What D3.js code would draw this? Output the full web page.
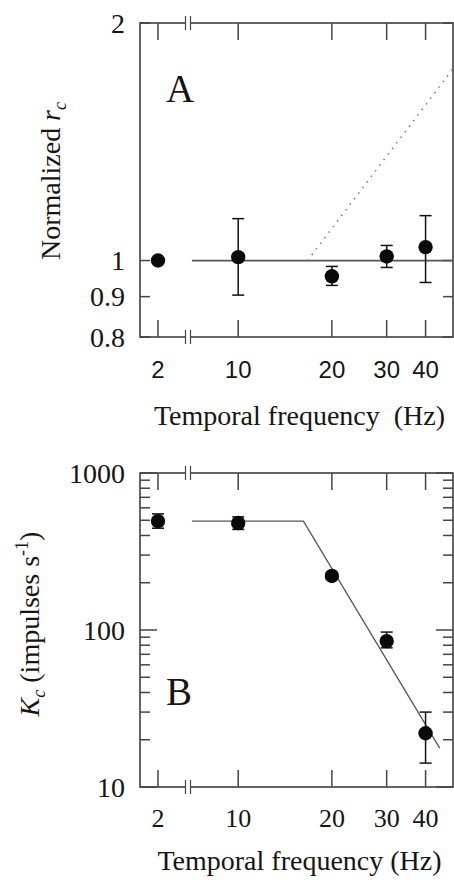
<!DOCTYPE html>
<html>
<head>
<meta charset="utf-8">
<script src="https://cdn.jsdelivr.net/npm/d3@7"></script>
<style>
  body { margin: 0; background: #fff; }
  svg { display: block; }
  text { fill: #151515; }
</style>
</head>
<body>
<div id="chart"></div>
<script>
// Temporal frequencies (Hz); 2 Hz sits left of the axis break.
var freqs = [2, 10, 20, 30, 40];

// Panel A: normalized r_c with error bars.
var rcValues = [1.0, 1.01, 0.955, 1.012, 1.04];
var rcUpper  = [1.0, 1.13, 0.983, 1.045, 1.14];
var rcLower  = [1.0, 0.904, 0.93, 0.98, 0.938];
var rcTicks = [0.8, 0.9, 1, 2];

// Panel A model lines.
var rcFlatFreq = [7.1, 49];
var rcFlatVal  = [1, 1];
var rcDotFreq  = [16.7, 49];
var rcDotVal   = [1.0, 1.75];

// Panel B: K_c (impulses/s) with error bars.
var kcValues = [494, 480, 221, 85, 22];
var kcUpper  = [549, 525, 232, 97, 30];
var kcLower  = [445, 437, 211, 77, 14.2];
var kcTicks = [10, 100, 1000];

// Panel B fitted line.
var kcFitFreq = [7.1, 16.2, 44.4];
var kcFitVal  = [494, 494, 17.7];

var width = 454;
var height = 882;

var left = 140, right = 453;
var breakX = 188;

var svg = d3.select("#chart")
  .append("svg")
    .attr("width", width)
    .attr("height", height);

// Two x pieces: the lone 2 Hz point, then a log axis after the break.
var xLeft = d3.scaleLinear().domain([1.4, 3.0]).range([left, breakX]);
var xMain = d3.scaleLog().domain([7, 49]).range([190, right]);

function xPos(f) {
  return f < 5 ? xLeft(f) : xMain(f);
}

var serif = "Liberation Serif, Times New Roman, DejaVu Serif, serif";
var sans = "Liberation Sans, Arial, sans-serif";

function drawPanel(opt) {
  var g = svg.append("g");
  var y = opt.y;
  var top = y.range()[1], bottom = y.range()[0];

  // frame
  g.append("rect")
    .attr("x", left).attr("y", top)
    .attr("width", right - left).attr("height", bottom - top)
    .attr("fill", "none").attr("stroke", "#333").attr("stroke-width", 1.5);

  // x ticks, inward on bottom and top
  freqs.forEach(function (f) {
    var x = xPos(f);
    g.append("line").attr("x1", x).attr("x2", x).attr("y1", bottom).attr("y2", bottom - 17)
      .attr("stroke", "#444").attr("stroke-width", 1.5);
    g.append("line").attr("x1", x).attr("x2", x).attr("y1", top).attr("y2", top + 17)
      .attr("stroke", "#444").attr("stroke-width", 1.5);
    g.append("text")
      .attr("x", x).attr("y", opt.xLabelY)
      .attr("text-anchor", "middle")
      .attr("font-family", opt.xTickFont).attr("font-size", opt.xTickSize)
      .text(f);
  });

  // axis break marks
  [top, bottom].forEach(function (yy) {
    g.append("rect").attr("x", breakX - 2).attr("y", yy - 2).attr("width", 4).attr("height", 4)
      .attr("fill", "#fff");
    [breakX - 2.5, breakX + 2.5].forEach(function (bx) {
      g.append("line").attr("x1", bx).attr("x2", bx).attr("y1", yy - 7).attr("y2", yy + 7)
        .attr("stroke", "#444").attr("stroke-width", 1.2);
    });
  });

  // y ticks, inward on both sides
  opt.yTicks.forEach(function (t) {
    var yy = y(t);
    var L = opt.isMajor(t) ? opt.majorLen : opt.minorLen;
    g.append("line").attr("x1", left).attr("x2", left + L).attr("y1", yy).attr("y2", yy)
      .attr("stroke", "#444").attr("stroke-width", 1.5);
    g.append("line").attr("x1", right).attr("x2", right - L).attr("y1", yy).attr("y2", yy)
      .attr("stroke", "#444").attr("stroke-width", 1.5);
  });
  opt.yLabels.forEach(function (t) {
    g.append("text")
      .attr("x", 125).attr("y", y(t))
      .attr("dy", "0.35em")
      .attr("text-anchor", "end")
      .attr("font-family", serif).attr("font-size", 28)
      .text(t);
  });

  // x title
  g.append("text")
    .attr("x", (left + right) / 2 + 3).attr("y", opt.xTitleY)
    .attr("text-anchor", "middle")
    .attr("font-family", serif).attr("font-size", 28)
    .attr("xml:space", "preserve")
    .style("white-space", "pre")
    .text(opt.xTitle);

  // panel letter
  g.append("text")
    .attr("x", 166).attr("y", opt.letterY)
    .attr("font-family", serif).attr("font-size", 39)
    .text(opt.letter);

  return g;
}

function drawPoints(g, y, vals, up, lo) {
  freqs.forEach(function (f, i) {
    var x = xPos(f);
    if (up[i] !== lo[i]) {
      g.append("line").attr("x1", x).attr("x2", x).attr("y1", y(up[i])).attr("y2", y(lo[i]))
        .attr("stroke", "#111").attr("stroke-width", 1.5);
      [up[i], lo[i]].forEach(function (v) {
        g.append("line").attr("x1", x - 6).attr("x2", x + 6).attr("y1", y(v)).attr("y2", y(v))
          .attr("stroke", "#111").attr("stroke-width", 1.5);
      });
    }
    g.append("circle").attr("cx", x).attr("cy", y(vals[i])).attr("r", 7.2).attr("fill", "#0a0a0a");
  });
}

// ---- Panel A ----
var yA = d3.scaleLog().domain([0.8, 2]).range([337, 23]);
var gA = drawPanel({
  y: yA,
  yTicks: rcTicks,
  yLabels: rcTicks,
  isMajor: function () { return true; },
  majorLen: 10, minorLen: 10,
  xLabelY: 378, xTickFont: sans, xTickSize: 24,
  xTitleY: 425, xTitle: "Temporal frequency  (Hz)",
  letter: "A", letterY: 102
});

var lineA = d3.line().x(function (d) { return xMain(d[0]); }).y(function (d) { return yA(d[1]); });
gA.append("path")
  .attr("d", lineA(d3.zip(rcFlatFreq, rcFlatVal)))
  .attr("fill", "none").attr("stroke", "#555").attr("stroke-width", 1.7);
gA.append("path")
  .attr("d", lineA(d3.zip(rcDotFreq, rcDotVal)))
  .attr("fill", "none").attr("stroke", "#777").attr("stroke-width", 1.5)
  .attr("stroke-dasharray", "1.5,5.5");
drawPoints(gA, yA, rcValues, rcUpper, rcLower);

// y title A
var tA = gA.append("text")
  .attr("transform", "translate(60,181) rotate(-90)")
  .attr("text-anchor", "middle")
  .attr("font-family", serif).attr("font-size", 28);
tA.append("tspan").text("Normalized ");
tA.append("tspan").attr("font-style", "italic").text("r");
tA.append("tspan").attr("font-style", "italic").attr("font-size", 18)
  .attr("dy", 6).text("c");

// ---- Panel B ----
var yB = d3.scaleLog().domain([10, 1000]).range([787, 473]);
var kcAll = [];
[10, 100].forEach(function (d) {
  for (var k = 1; k < 10; k++) kcAll.push(d * k);
});
kcAll.push(1000);
var gB = drawPanel({
  y: yB,
  yTicks: kcAll,
  yLabels: kcTicks,
  isMajor: function (t) { return kcTicks.indexOf(t) >= 0; },
  majorLen: 17, minorLen: 10,
  xLabelY: 827, xTickFont: serif, xTickSize: 26,
  xTitleY: 870, xTitle: "Temporal frequency (Hz)",
  letter: "B", letterY: 705
});

var lineB = d3.line().x(function (d) { return xMain(d[0]); }).y(function (d) { return yB(d[1]); });
gB.append("path")
  .attr("d", lineB(d3.zip(kcFitFreq, kcFitVal)))
  .attr("fill", "none").attr("stroke", "#555").attr("stroke-width", 1.3);
drawPoints(gB, yB, kcValues, kcUpper, kcLower);

// y title B
var tB = gB.append("text")
  .attr("transform", "translate(39,624) rotate(-90)")
  .attr("text-anchor", "middle")
  .attr("font-family", serif).attr("font-size", 28);
tB.append("tspan").attr("font-style", "italic").text("K");
tB.append("tspan").attr("font-style", "italic").attr("font-size", 18)
  .attr("dy", 6).text("c");
tB.append("tspan").attr("dy", -6).text("\u00a0(impulses s");
tB.append("tspan").attr("font-size", 18).attr("dy", -11).text("-1");
tB.append("tspan").attr("dy", 11).text(")");
</script>
</body>
</html>
